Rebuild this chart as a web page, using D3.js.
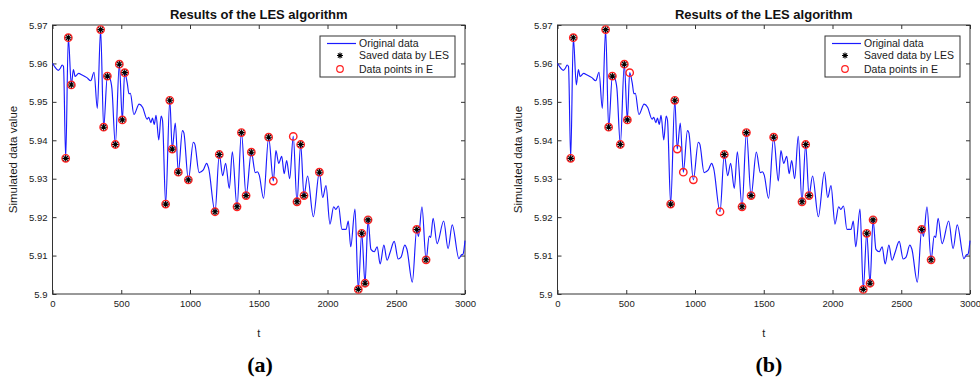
<!DOCTYPE html>
<html>
<head>
<meta charset="utf-8">
<script src="https://cdn.jsdelivr.net/npm/d3@7"></script>
<style>
  html, body { margin: 0; padding: 0; background: #fff; }
  svg { display: block; font-family: "Liberation Sans", Arial, Helvetica, sans-serif; }
</style>
</head>
<body>
<svg id="chart" width="980" height="380"></svg>
<script>
// ---------- DATA ----------
const lineT = [0, 15, 30, 42, 58, 70, 80, 96, 115, 137, 152, 165, 190, 215, 250, 278, 302, 326, 350, 372, 399, 418, 432, 457, 486, 508, 525, 544, 556, 566, 592, 630, 655, 688, 700, 715, 727, 740, 753, 773, 790, 800, 823, 853, 871, 893, 915, 945, 955, 988, 1024, 1035, 1066, 1097, 1121, 1135, 1182, 1213, 1238, 1259, 1286, 1308, 1342, 1374, 1408, 1446, 1475, 1490, 1503, 1535, 1572, 1606, 1625, 1645, 1667, 1685, 1703, 1725, 1751, 1778, 1805, 1829, 1855, 1897, 1941, 1965, 1989, 2018, 2045, 2060, 2080, 2105, 2135, 2151, 2169, 2200, 2224, 2249, 2273, 2295, 2316, 2340, 2361, 2383, 2410, 2433, 2455, 2485, 2514, 2535, 2562, 2577, 2617, 2649, 2662, 2687, 2717, 2740, 2750, 2768, 2797, 2845, 2877, 2907, 2956, 2972, 2986, 3000];
const lineV = [5.9600, 5.9592, 5.9585, 5.9582, 5.9588, 5.9596, 5.9592, 5.9353, 5.9667, 5.9544, 5.9584, 5.9566, 5.9574, 5.9570, 5.9563, 5.9555, 5.9577, 5.9483, 5.9688, 5.9434, 5.9567, 5.9560, 5.9535, 5.9389, 5.9598, 5.9453, 5.9576, 5.9548, 5.9521, 5.9522, 5.9467, 5.9494, 5.9486, 5.9455, 5.9460, 5.9446, 5.9458, 5.9441, 5.9465, 5.9401, 5.9463, 5.9452, 5.9234, 5.9504, 5.9377, 5.9445, 5.9317, 5.9425, 5.9420, 5.9297, 5.9395, 5.9390, 5.9316, 5.9323, 5.9340, 5.9328, 5.9214, 5.9363, 5.9308, 5.9340, 5.9275, 5.9370, 5.9227, 5.9420, 5.9256, 5.9369, 5.9316, 5.9318, 5.9310, 5.9249, 5.9408, 5.9294, 5.9373, 5.9340, 5.9358, 5.9313, 5.9347, 5.9300, 5.9410, 5.9240, 5.9389, 5.9256, 5.9307, 5.9201, 5.9317, 5.9251, 5.9282, 5.9182, 5.9227, 5.9220, 5.9229, 5.9168, 5.9168, 5.9190, 5.9123, 5.9221, 5.9012, 5.9158, 5.9028, 5.9193, 5.9116, 5.9110, 5.9123, 5.9078, 5.9127, 5.9088, 5.9108, 5.9137, 5.9091, 5.9096, 5.9127, 5.9117, 5.9031, 5.9168, 5.9150, 5.9227, 5.9089, 5.9151, 5.9147, 5.9197, 5.9131, 5.9190, 5.9118, 5.9180, 5.9092, 5.9101, 5.9104, 5.9139];

// markers (t values on the original data)
const savedA = [96, 115, 137, 350, 372, 399, 457, 486, 508, 525, 823, 853, 871, 915, 988, 1182, 1213, 1342, 1374, 1408, 1446, 1572, 1778, 1805, 1829, 1941, 2224, 2249, 2273, 2295, 2649, 2717];
const pointsEA = [96, 115, 137, 350, 372, 399, 457, 486, 508, 525, 823, 853, 871, 915, 988, 1182, 1213, 1342, 1374, 1408, 1446, 1572, 1606, 1751, 1778, 1805, 1829, 1941, 2224, 2249, 2273, 2295, 2649, 2717];
const savedB = [96, 115, 350, 372, 399, 457, 486, 508, 823, 853, 1213, 1342, 1374, 1408, 1572, 1778, 1805, 1829, 2224, 2249, 2273, 2295, 2649, 2717];
const pointsEB = [96, 115, 350, 372, 399, 457, 486, 508, 525, 823, 853, 871, 915, 988, 1182, 1213, 1342, 1374, 1408, 1572, 1778, 1805, 1829, 2224, 2249, 2273, 2295, 2649, 2717];

const xTicks = [0, 500, 1000, 1500, 2000, 2500, 3000];
const yTicks = [5.90, 5.91, 5.92, 5.93, 5.94, 5.95, 5.96, 5.97];
const yTickLabels = ["5.9", "5.91", "5.92", "5.93", "5.94", "5.95", "5.96", "5.97"];
const legendLabels = ["Original data", "Saved data by LES", "Data points in E"];
const titleText = "Results of the LES algorithm";
const xLabel = "t";
const yLabel = "Simulated data value";

// ---------- DRAW ----------
const svg = d3.select("#chart");
const W = 412.5, H = 269;
const lineData = lineT.map((t, i) => ({ t: t, v: lineV[i] }));
const valueAt = t => lineV[lineT.indexOf(t)];

function starPath(s) {
  const d = s * Math.SQRT1_2;
  return `M${-s},0L${s},0M0,${-s}L0,${s}M${-d},${-d}L${d},${d}M${-d},${d}L${d},${-d}`;
}

function drawPanel(left, saved, pointsE, caption, captionX) {
  const g = svg.append("g").attr("transform", `translate(${left},25)`);
  const x = d3.scaleLinear().domain([0, 3000]).range([0, W]);
  const y = d3.scaleLinear().domain([5.9, 5.97]).range([H, 0]);

  // axes (ticks inside, MATLAB-style box)
  const ax = [
    g.append("g").attr("transform", `translate(0,${H})`)
      .call(d3.axisBottom(x).tickValues(xTicks).tickFormat(d3.format("d")).tickSizeInner(-4).tickSizeOuter(0).tickPadding(6)),
    g.append("g")
      .call(d3.axisTop(x).tickValues(xTicks).tickFormat("").tickSizeInner(-4).tickSizeOuter(0)),
    g.append("g")
      .call(d3.axisLeft(y).tickValues(yTicks).tickFormat((d, i) => yTickLabels[i]).tickSizeInner(-4).tickSizeOuter(0).tickPadding(5)),
    g.append("g").attr("transform", `translate(${W},0)`)
      .call(d3.axisRight(y).tickValues(yTicks).tickFormat("").tickSizeInner(-4).tickSizeOuter(0))
  ];
  ax.forEach(a => {
    a.select(".domain").remove();
    a.attr("font-family", null).attr("font-size", null);
    a.selectAll("line").attr("stroke", "#333");
    a.selectAll("text").attr("font-size", "9.5px").attr("fill", "#1a1a1a");
  });

  g.append("rect").attr("x", 0).attr("y", 0).attr("width", W).attr("height", H)
    .attr("fill", "none").attr("stroke", "#333").attr("stroke-width", 1);

  // original data line
  const line = d3.line().x(d => x(d.t)).y(d => y(d.v)).curve(d3.curveMonotoneX);
  g.append("path").datum(lineData).attr("d", line)
    .attr("fill", "none").attr("stroke", "#1a1aff").attr("stroke-width", 1.15);

  // data points in E (red circles)
  g.selectAll("circle.e").data(pointsE).enter().append("circle")
    .attr("class", "e")
    .attr("cx", t => x(t)).attr("cy", t => y(valueAt(t))).attr("r", 3.7)
    .attr("fill", "none").attr("stroke", "#ff2020").attr("stroke-width", 1.4);

  // saved data (black asterisks)
  g.selectAll("path.s").data(saved).enter().append("path")
    .attr("class", "s")
    .attr("transform", t => `translate(${x(t)},${y(valueAt(t))})`)
    .attr("d", starPath(3.2))
    .attr("stroke", "#000").attr("stroke-width", 1.1).attr("fill", "none");

  // title
  g.append("text").attr("x", W / 2).attr("y", -6).attr("text-anchor", "middle")
    .attr("fill", "#111").attr("font-size", "13px").attr("font-weight", "bold").text(titleText);
  // axis labels
  g.append("text").attr("x", W / 2).attr("y", H + 43).attr("text-anchor", "middle")
    .attr("fill", "#1a1a1a").attr("font-size", "11px").text(xLabel);
  g.append("text").attr("transform", `translate(-36,${H / 2}) rotate(-90)`)
    .attr("fill", "#1a1a1a").attr("text-anchor", "middle").attr("font-size", "11.5px").text(yLabel);

  // legend
  const lg = g.append("g").attr("transform", `translate(${W - 145},11)`);
  lg.append("rect").attr("width", 135).attr("height", 41)
    .attr("fill", "#fff").attr("stroke", "#333").attr("stroke-width", 1);
  const rows = [7.5, 19.5, 33];
  lg.append("line").attr("x1", 7).attr("x2", 36).attr("y1", rows[0]).attr("y2", rows[0])
    .attr("stroke", "#1a1aff").attr("stroke-width", 1.2);
  lg.append("path").attr("transform", `translate(20,${rows[1]})`).attr("d", starPath(3))
    .attr("stroke", "#000").attr("stroke-width", 1.1);
  lg.append("circle").attr("cx", 20).attr("cy", rows[2]).attr("r", 3.3)
    .attr("fill", "none").attr("stroke", "#ff2020").attr("stroke-width", 1.2);
  legendLabels.forEach((s, i) => {
    lg.append("text").attr("x", 39).attr("y", rows[i] + 3.8)
      .attr("fill", "#1a1a1a").attr("font-size", "10.5px").text(s);
  });

  // caption
  svg.append("text").attr("x", captionX).attr("y", 372).attr("text-anchor", "middle")
    .attr("font-family", '"Liberation Serif", "Times New Roman", serif')
    .attr("fill", "#000").attr("font-weight", "bold").attr("font-size", "22px").text(caption);
}

drawPanel(52.5, savedA, pointsEA, "(a)", 260);
drawPanel(557.5, savedB, pointsEB, "(b)", 769);
</script>
</body>
</html>
